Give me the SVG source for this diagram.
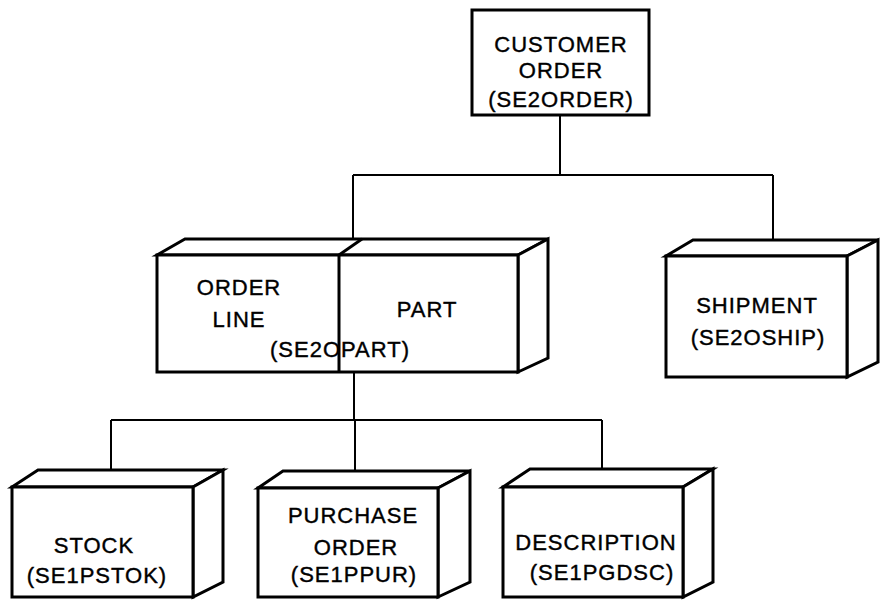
<svg xmlns="http://www.w3.org/2000/svg" width="881" height="600" viewBox="0 0 881 600">
<style>
.box{fill:#fff;stroke:#000;stroke-width:3;stroke-linejoin:miter}
.conn{fill:none;stroke:#000;stroke-width:2}
text{font-family:"Liberation Sans",Arial,Helvetica,sans-serif;font-size:22px;letter-spacing:1px;fill:#000;stroke:#000;stroke-width:0.4;text-anchor:middle}
</style>
<rect width="881" height="600" fill="#fff"/>
<g id="connectors">
<path class="conn" d="M560,115 V175 M353,175 H773 M353,175 V239 M773,175 V240"/>
<path class="conn" d="M354,372 V420 M111,420 H602 M111,420 V470 M355,420 V471 M602,420 V469"/>
</g>
<g id="customer-order">
<rect class="box" x="472" y="10" width="177" height="105"/>
<text x="561" y="52">CUSTOMER</text>
<text x="561" y="78">ORDER</text>
<text x="561" y="107">(SE2ORDER)</text>
</g>
<g id="order-line-part">
<polygon class="box" points="157,255 185,239 548,239 518,255"/>
<polygon class="box" points="518,255 548,239 548,358 518,372"/>
<rect class="box" x="157" y="255" width="361" height="117"/>
<line x1="339" y1="255" x2="339" y2="372" stroke="#000" stroke-width="3"/>
<line x1="339" y1="255" x2="362" y2="239" stroke="#000" stroke-width="3"/>
<text x="239" y="295">ORDER</text>
<text x="239" y="327">LINE</text>
<text x="427" y="317">PART</text>
<text x="340" y="357">(SE2OPART)</text>
</g>
<g id="shipment">
<polygon class="box" points="666,256 693,240 878,240 847,256"/>
<polygon class="box" points="847,256 878,240 878,362 847,377"/>
<rect class="box" x="666" y="256" width="181" height="121"/>
<text x="757" y="313">SHIPMENT</text>
<text x="758" y="345">(SE2OSHIP)</text>
</g>
<g id="stock">
<polygon class="box" points="12,487 38,470 223,470 193,487"/>
<polygon class="box" points="193,487 223,470 223,582 193,597"/>
<rect class="box" x="12" y="487" width="181" height="110"/>
<text x="94" y="553">STOCK</text>
<text x="97" y="583">(SE1PSTOK)</text>
</g>
<g id="purchase-order">
<polygon class="box" points="258,488 283,471 470,471 438,488"/>
<polygon class="box" points="438,488 470,471 470,582 438,597"/>
<rect class="box" x="258" y="488" width="180" height="109"/>
<text x="353" y="523">PURCHASE</text>
<text x="356" y="555">ORDER</text>
<text x="354" y="582">(SE1PPUR)</text>
</g>
<g id="description">
<polygon class="box" points="503,487 530,469 713,469 683,487"/>
<polygon class="box" points="683,487 713,469 713,582 683,597"/>
<rect class="box" x="503" y="487" width="180" height="110"/>
<text x="596" y="550">DESCRIPTION</text>
<text x="602" y="580">(SE1PGDSC)</text>
</g>
</svg>
